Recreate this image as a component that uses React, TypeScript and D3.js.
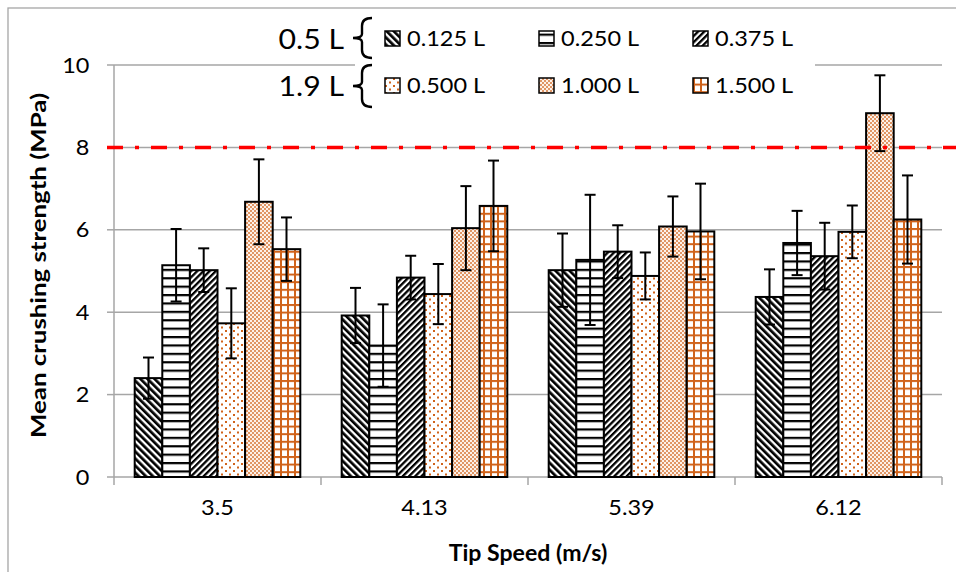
import React from "react";
import * as d3 from "d3";

const categories = ["3.5", "4.13", "5.39", "6.12"];
const seriesNames = ["0.125 L", "0.250 L", "0.375 L", "0.500 L", "1.000 L", "1.500 L"];
const s0125 = [2.4, 3.92, 5.02, 4.37];
const s0250 = [5.14, 3.19, 5.27, 5.68];
const s0375 = [5.02, 4.84, 5.47, 5.36];
const s0500 = [3.73, 4.44, 4.88, 5.95];
const s1000 = [6.68, 6.04, 6.08, 8.83];
const s1500 = [5.53, 6.58, 5.96, 6.25];
const e0125 = [0.5, 0.67, 0.89, 0.67];
const e0250 = [0.88, 1.0, 1.58, 0.78];
const e0375 = [0.53, 0.53, 0.64, 0.81];
const e0500 = [0.85, 0.73, 0.57, 0.64];
const e1000 = [1.03, 1.02, 0.73, 0.92];
const e1500 = [0.77, 1.1, 1.16, 1.07];
const yTicks = [0, 2, 4, 6, 8, 10];
const threshold = 8;
const groupLabels = ["0.5 L", "1.9 L"];

const seriesValues = [s0125, s0250, s0375, s0500, s1000, s1500];
const seriesErrors = [e0125, e0250, e0375, e0500, e1000, e1500];

const W = 956;
const H = 572;
const left = 114;
const right = 942;
const top = 65;
const bottom = 477;
const ORANGE = "#D0631B";
const GRID = "#A6A6A6";
const FONT = "Lato, 'Open Sans', sans-serif";
const SX = 1.12;

function SText({ x, y, size, anchor = "start", weight = "normal", sx = SX, children }: any) {
  return (
    <text
      transform={`translate(${x},${y}) scale(${sx},1)`}
      textAnchor={anchor}
      fontSize={size}
      fontWeight={weight}
      fontFamily={FONT}
      fill="#000"
    >
      {children}
    </text>
  );
}

function Patterns() {
  return (
    <defs>
      <pattern id="p0" patternUnits="userSpaceOnUse" width="5" height="5" patternTransform="rotate(-45)">
        <rect width="5" height="5" fill="#fff" />
        <rect width="2.7" height="5" fill="#000" />
      </pattern>
      <pattern id="p1" patternUnits="userSpaceOnUse" width="10" height="8.4">
        <rect width="10" height="8.4" fill="#fff" />
        <rect y="0" width="10" height="2.2" fill="#000" />
      </pattern>
      <pattern id="p2" patternUnits="userSpaceOnUse" width="4.4" height="4.4" patternTransform="rotate(45)">
        <rect width="4.4" height="4.4" fill="#fff" />
        <rect width="2.3" height="4.4" fill="#000" />
      </pattern>
      <pattern id="p3" patternUnits="userSpaceOnUse" width="8" height="7">
        <rect width="8" height="7" fill="#fff" />
        <rect x="1" y="1" width="2" height="2" fill={ORANGE} />
        <rect x="5" y="4.5" width="2" height="2" fill={ORANGE} />
      </pattern>
      <pattern id="p4" patternUnits="userSpaceOnUse" width="4" height="4">
        <rect width="4" height="4" fill="#fdf1e9" />
        <rect x="0.2" y="0.2" width="1.6" height="1.6" fill={ORANGE} />
        <rect x="2.2" y="2.2" width="1.6" height="1.6" fill={ORANGE} />
      </pattern>
      <pattern id="p5" patternUnits="userSpaceOnUse" width="7" height="7.6">
        <rect width="7" height="7.6" fill="#fff" />
        <rect x="0" y="0" width="2" height="7.6" fill={ORANGE} />
        <rect x="0" y="0" width="7" height="2" fill={ORANGE} />
      </pattern>
    </defs>
  );
}

function Brace({ x, y0, y1 }: any) {
  const ym = (y0 + y1) / 2;
  const sp = x + 9;
  const d = `M${sp + 10},${y0} Q${sp},${y0} ${sp},${y0 + 8} L${sp},${ym - 4} Q${sp},${ym} ${x},${ym} Q${sp},${ym} ${sp},${ym + 4} L${sp},${y1 - 8} Q${sp},${y1} ${sp + 10},${y1}`;
  return <path d={d} fill="none" stroke="#000" strokeWidth={2.4} />;
}

export default function App() {
  const x0 = d3.scaleBand<string>().domain(categories).range([left, right]).padding(0);
  const bw = x0.bandwidth();
  const x1 = d3
    .scaleBand<string>()
    .domain(seriesNames)
    .range([bw * 0.1, bw * 0.9])
    .padding(0);
  const y = d3.scaleLinear().domain([0, 10]).range([bottom, top]);

  const legendCols = [385, 539, 693];
  const legendRows = [38.5, 85.5];

  return (
    <svg
      width={W}
      height={H}
      style={{ position: "absolute", left: 0, top: 0, background: "#fff" }}
    >
      <Patterns />
      <rect x={8} y={8} width={1000} height={1000} fill="#fff" stroke={GRID} strokeWidth={1.3} />

      {/* gridlines */}
      {yTicks.filter((t) => t > 0).map((t) => (
        <line key={t} x1={left} x2={right} y1={y(t)} y2={y(t)} stroke={GRID} strokeWidth={1.5} />
      ))}

      {/* axes */}
      <line x1={left} x2={left} y1={top} y2={bottom} stroke={GRID} strokeWidth={1.5} />
      <line x1={left} x2={right} y1={bottom} y2={bottom} stroke={GRID} strokeWidth={1.5} />
      {yTicks.map((t) => (
        <line key={t} x1={left - 7} x2={left} y1={y(t)} y2={y(t)} stroke={GRID} strokeWidth={1.5} />
      ))}
      {[...categories.map((c) => x0(c) as number), right].map((v, i) => (
        <line key={i} x1={v} x2={v} y1={bottom} y2={bottom + 8} stroke={GRID} strokeWidth={1.5} />
      ))}

      {/* y tick labels */}
      {yTicks.map((t) => (
        <SText key={t} x={89.5} y={y(t) + 7.5} size={21} anchor="end">
          {t}
        </SText>
      ))}

      {/* x tick labels */}
      {categories.map((c) => (
        <SText key={c} x={(x0(c) as number) + bw / 2} y={y(0) + 38} size={21} anchor="middle">
          {c}
        </SText>
      ))}

      {/* bars */}
      {seriesNames.map((s, si) =>
        categories.map((c, ci) => (
          <rect
            key={s + c}
            x={(x0(c) as number) + (x1(s) as number)}
            y={y(seriesValues[si][ci])}
            width={x1.bandwidth()}
            height={y(0) - y(seriesValues[si][ci])}
            fill={`url(#p${si})`}
            stroke="#000"
            strokeWidth={2}
          />
        ))
      )}

      {/* threshold line */}
      <line
        x1={107}
        x2={W}
        y1={y(threshold)}
        y2={y(threshold)}
        stroke="#FF0000"
        strokeWidth={3.5}
        strokeDasharray="16,12,4,12"
      />

      {/* error bars */}
      {seriesNames.map((s, si) =>
        categories.map((c, ci) => {
          const cx = (x0(c) as number) + (x1(s) as number) + x1.bandwidth() / 2;
          const v = seriesValues[si][ci];
          const e = seriesErrors[si][ci];
          return (
            <g key={s + c} stroke="#000" strokeWidth={2}>
              <line x1={cx} x2={cx} y1={y(v + e)} y2={y(v - e)} />
              <line x1={cx - 5.5} x2={cx + 5.5} y1={y(v + e)} y2={y(v + e)} />
              <line x1={cx - 5.5} x2={cx + 5.5} y1={y(v - e)} y2={y(v - e)} />
            </g>
          );
        })
      )}

      {/* legend */}
      <rect x={355} y={9} width={460} height={103} fill="#fff" />
      {groupLabels.map((g, gi) => (
        <SText key={g} x={344} y={legendRows[gi] + 10} size={27} anchor="end">
          {g}
        </SText>
      ))}
      <Brace x={353} y0={18} y1={58} />
      <Brace x={353} y0={65} y1={107} />
      {seriesNames.map((s, si) => {
        const col = si % 3;
        const row = Math.floor(si / 3);
        const lx = legendCols[col];
        const ly = legendRows[row];
        return (
          <g key={s}>
            <rect x={lx} y={ly - 7.5} width={15} height={15} fill={`url(#p${si})`} stroke="#000" strokeWidth={1.5} />
            <SText x={lx + 22} y={ly + 7.5} size={21}>
              {s}
            </SText>
          </g>
        );
      })}

      {/* axis titles */}
      <SText x={528} y={561} size={22} anchor="middle" weight="bold" sx={1.05}>
        Tip Speed (m/s)
      </SText>
      <text
        transform={`translate(46,265.5) rotate(-90)`}
        textAnchor="middle"
        fontSize={21.5}
        fontWeight="bold"
        fontFamily={FONT}
        textLength={345}
        lengthAdjust="spacingAndGlyphs"
      >
        Mean crushing strength (MPa)
      </text>
    </svg>
  );
}
